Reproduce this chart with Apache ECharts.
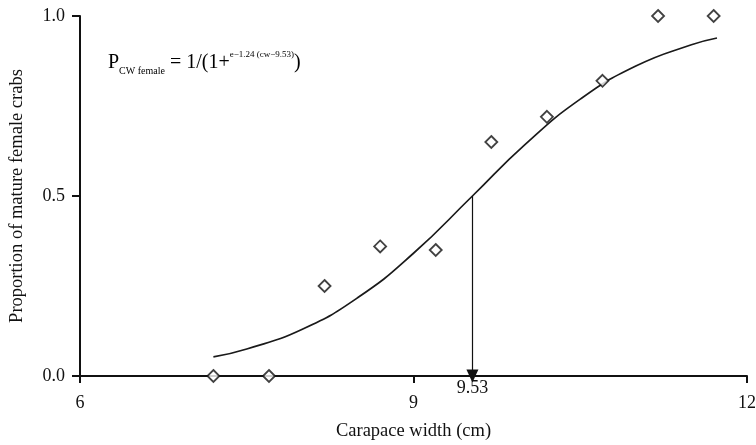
<!DOCTYPE html>
<html>
<head>
<meta charset="utf-8">
<script src="https://cdn.jsdelivr.net/npm/echarts@6/dist/echarts.min.js"></script>
<style>
html,body{margin:0;padding:0;background:#fff;}
#chart{width:756px;height:445px;}
</style>
</head>
<body>
<div id="chart"></div>
<script>
// Observed data points (carapace width cm, proportion mature)
const widths = [7.2, 7.7, 8.2, 8.7, 9.2, 9.7, 10.2, 10.7, 11.2, 11.7];
const proportions = [0, 0, 0.25, 0.36, 0.35, 0.65, 0.72, 0.82, 1.0, 1.0];
// Fitted curve, values
const curveX = [7.2, 7.5, 8.0, 8.5, 9.0, 9.53, 10.0, 10.5, 11.0, 11.5, 11.73];
const curveY = [0.053, 0.075, 0.13, 0.218, 0.341, 0.5, 0.642, 0.769, 0.861, 0.92, 0.939];
// Size at 50% maturity
const l50 = 9.53;
const xTicks = [6, 9, 12];
const yTicks = [0, 0.5, 1.0];

const font = '"Liberation Serif", "DejaVu Serif", serif';
const chart = echarts.init(document.getElementById('chart'));
chart.setOption({
  animation: false,
  backgroundColor: '#fff',
  textStyle: { fontFamily: font },
  grid: { left: 80, right: 9, top: 16, bottom: 69, outerBoundsMode: 'none', containLabel: false },
  xAxis: {
    type: 'value', min: xTicks[0], max: xTicks[xTicks.length - 1], interval: 3,
    name: 'Carapace width (cm)', nameLocation: 'middle', nameGap: 46,
    nameTextStyle: { fontFamily: font, fontSize: 18.5, color: '#111' },
    axisLine: { show: true, lineStyle: { color: '#111', width: 2 } },
    axisTick: { show: true, length: 7, lineStyle: { color: '#111', width: 2 } },
    axisLabel: { fontFamily: font, fontSize: 18, color: '#111', margin: 18 },
    splitLine: { show: false }
  },
  yAxis: {
    type: 'value', min: yTicks[0], max: yTicks[yTicks.length - 1], interval: 0.5,
    name: 'Proportion of mature female crabs', nameLocation: 'middle', nameGap: 53,
    nameTextStyle: { fontFamily: font, fontSize: 18.5, color: '#111' },
    axisLine: { show: true, lineStyle: { color: '#111', width: 2 } },
    axisTick: { show: true, length: 8, lineStyle: { color: '#111', width: 2 } },
    axisLabel: { fontFamily: font, fontSize: 18, color: '#111', margin: 15,
      formatter: v => v.toFixed(1) },
    splitLine: { show: false }
  },
  series: [
    {
      type: 'line',
      data: curveX.map((x, i) => [x, curveY[i]]),
      smooth: true,
      showSymbol: false,
      lineStyle: { color: '#1a1a1a', width: 1.7 },
      z: 2,
      markLine: {
        silent: true,
        symbol: ['none', 'triangle'],
        symbolSize: [12, 13],
        lineStyle: { color: '#111', width: 1.2, type: 'solid' },
        label: { show: true, position: 'end', distance: 3, formatter: String(l50),
          fontFamily: font, fontSize: 18, color: '#111' },
        data: [[{ coord: [l50, 0.5] }, { coord: [l50, 0] }]]
      }
    },
    {
      type: 'scatter',
      data: widths.map((x, i) => [x, proportions[i]]),
      symbol: 'diamond',
      symbolSize: 12,
      itemStyle: { color: '#fff', borderColor: '#111', borderWidth: 1.8 },
      z: 3
    }
  ],
  graphic: [{
    type: 'text',
    left: 108, top: 50,
    style: {
      text: '{p|P}{sub|CW female}{eq| = 1/(1+}{sup|e\u22121.24 (cw\u22129.53)}{eq|)}',
      fontFamily: font,
      rich: {
        p: { fontFamily: font, fontSize: 20, color: '#111', lineHeight: 26, verticalAlign: 'middle' },
        sub: { fontFamily: font, fontSize: 10, color: '#111', verticalAlign: 'bottom', lineHeight: 12 },
        eq: { fontFamily: font, fontSize: 20, color: '#111', lineHeight: 26, verticalAlign: 'middle' },
        sup: { fontFamily: font, fontSize: 9, color: '#111', verticalAlign: 'top', lineHeight: 11 }
      }
    }
  }]
});
</script>
</body>
</html>
